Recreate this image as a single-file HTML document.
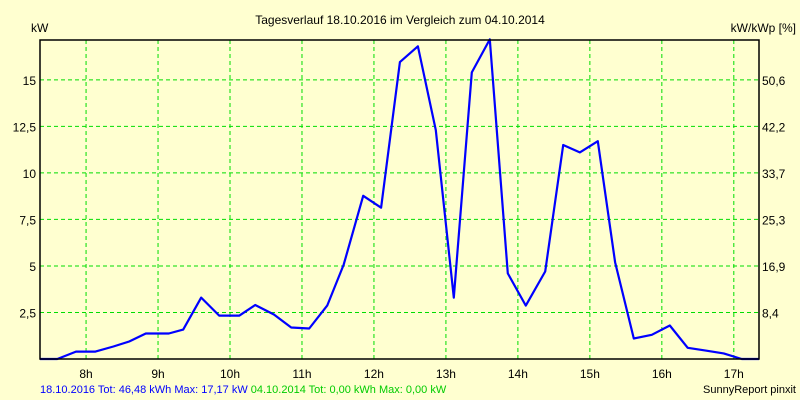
<!DOCTYPE html>
<html><head><meta charset="utf-8"><style>
body{margin:0;background:#ffffd0;}
svg{display:block;font-family:"Liberation Sans",sans-serif;}
</style></head><body>
<svg id="chart" width="800" height="400" xmlns="http://www.w3.org/2000/svg">
<rect x="0" y="0" width="800" height="400" fill="#ffffd0"/>
<text x="400" y="24" font-size="12" text-anchor="middle" fill="#000">Tagesverlauf 18.10.2016 im Vergleich zum 04.10.2014</text>
<text x="31" y="32" font-size="12" fill="#000">kW</text>
<text x="796" y="32" font-size="12" text-anchor="end" fill="#000">kW/kWp [%]</text>
<g id="grid"></g>
<g id="axes"></g>
<polyline id="series" fill="none" stroke="#0000ff" stroke-width="2.2" stroke-linejoin="round"/>
<rect x="40" y="40" width="719" height="319" fill="none" stroke="#000" stroke-width="1.5"/>
<text x="40" y="393" font-size="11"><tspan fill="#0000ff">18.10.2016 Tot: 46,48 kWh Max: 17,17 kW </tspan><tspan fill="#00cc00">04.10.2014 Tot: 0,00 kWh Max: 0,00 kW</tspan></text>
<text x="796" y="393" font-size="11" text-anchor="end" fill="#000">SunnyReport pinxit</text>
</svg>
<script>
const times = [7.36,7.6,7.86,8.13,8.38,8.6,8.83,9.15,9.35,9.6,9.85,10.13,10.35,10.61,10.85,11.1,11.35,11.58,11.85,12.1,12.36,12.61,12.86,13.11,13.36,13.61,13.86,14.11,14.38,14.63,14.86,15.11,15.35,15.61,15.86,16.11,16.36,16.61,16.86,17.11,17.35];
const values = [0,0,0.4,0.4,0.67,0.94,1.37,1.37,1.58,3.3,2.33,2.33,2.9,2.39,1.69,1.64,2.87,5.07,8.77,8.13,15.95,16.8,12.3,3.3,15.4,17.17,4.6,2.87,4.7,11.5,11.1,11.7,5.2,1.1,1.3,1.8,0.6,0.45,0.3,0,0];
const yTicks = [2.5,5,7.5,10,12.5,15];
const yTickLabels = ["2,5","5","7,5","10","12,5","15"];
const rightTickLabels = ["8,4","16,9","25,3","33,7","42,2","50,6"];
const hourTicks = [8,9,10,11,12,13,14,15,16,17];
const hourLabels = ["8h","9h","10h","11h","12h","13h","14h","15h","16h","17h"];

const L=40,R=759,T=40,B=359;
const tMin=7.36,tMax=17.35,yMax=17.14;
const xs=t=>L+(t-tMin)/(tMax-tMin)*(R-L);
const ys=v=>B-v/yMax*(B-T);
const NS="http://www.w3.org/2000/svg";
const grid=document.getElementById('grid'),axes=document.getElementById('axes');
function mk(tag,attrs,parent){const e=document.createElementNS(NS,tag);for(const k in attrs)e.setAttribute(k,attrs[k]);parent.appendChild(e);return e;}
yTicks.forEach((v,i)=>{
  const y=ys(v);
  const g=mk('line',{x1:L,x2:R,y1:y,y2:y,stroke:'#00dd00','stroke-dasharray':'4,3','stroke-width':1},grid);
  
  
  const t=mk('text',{x:L-4,y:y+5,'font-size':12,'text-anchor':'end',fill:'#000'},axes);
  t.textContent=yTickLabels[i];
  
  
  const t2=mk('text',{x:R+3,y:y+5,'font-size':12,fill:'#000'},axes);
  t2.textContent=rightTickLabels[i];
  
  
});
hourTicks.forEach((h,i)=>{
  const x=xs(h);
  const g=mk('line',{x1:x,x2:x,y1:T,y2:B,stroke:'#00dd00','stroke-dasharray':'4,3','stroke-width':1},grid);
  
  
  const t=mk('text',{x:x,y:378,'font-size':12,'text-anchor':'middle',fill:'#000'},axes);
  t.textContent=hourLabels[i];
  
  
});
document.getElementById('series').setAttribute('points',times.map((t,i)=>xs(t).toFixed(1)+','+ys(values[i]).toFixed(1)).join(' '));
</script>
</body></html>
